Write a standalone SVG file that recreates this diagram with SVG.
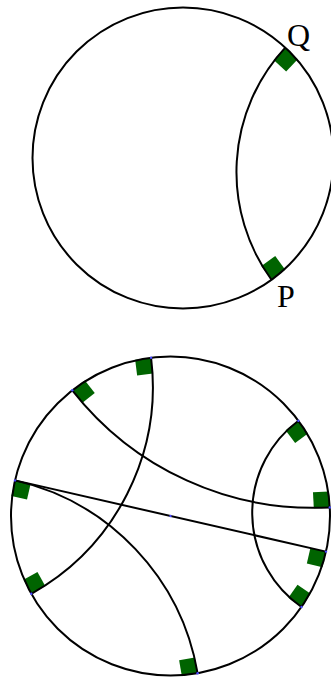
<svg xmlns="http://www.w3.org/2000/svg" width="331" height="679" viewBox="0 0 331 679">
  <style>
    .disk { fill: none; stroke: #000; stroke-width: 2; }
    .geo { fill: none; stroke: #000; stroke-width: 2; }
    .mark { fill: #006400; stroke: none; }
    .pt { fill: #4a4aff; }
    .lbl { font-family: "Liberation Serif", "DejaVu Serif", serif; font-size: 32px; fill: #000; }
  </style>

  <!-- Top figure -->
  <g id="top-markers">
    <rect class="mark" x="0" y="0" width="17" height="17" transform="translate(285.25 47.58) rotate(42.8)"/>
    <rect class="mark" x="-17" y="0" width="17" height="17" transform="translate(271.46 279.76) rotate(144)"/>
  </g>
  <g id="top-disk">
    <circle class="disk" cx="183" cy="158" r="150.5"/>
  </g>
  <g id="top-connectors">
    <path class="geo" d="M 285.25 47.58 A 183.2 183.2 0 0 0 271.46 279.76"/>
  </g>
  <g id="label-Q"><text class="lbl" x="287" y="45.5">Q</text></g>
  <g id="label-P"><text class="lbl" x="277" y="307">P</text></g>

  <!-- Bottom figure -->
  <g id="bottom-markers">
    <rect class="mark" x="-16" y="0" width="16" height="16" transform="translate(151.06 357.7) rotate(353)"/>
    <rect class="mark" x="0" y="0" width="16" height="16" transform="translate(31.3 593.8) rotate(240.8)"/>
    <rect class="mark" x="0" y="0" width="16" height="16" transform="translate(72.3 390.3) rotate(322)"/>
    <rect class="mark" x="-16" y="0" width="16" height="16" transform="translate(329.8 507.4) rotate(86.9)"/>
    <rect class="mark" x="-16" y="0" width="16" height="16" transform="translate(15 480.4) rotate(282.9)"/>
    <rect class="mark" x="0" y="0" width="16" height="16" transform="translate(197.6 673.2) rotate(170.2)"/>
    <rect class="mark" x="0" y="0" width="16" height="16" transform="translate(326 551.6) rotate(102.9)"/>
    <rect class="mark" x="0" y="0" width="16" height="16" transform="translate(298.4 420.7) rotate(53.3)"/>
    <rect class="mark" x="-16" y="0" width="16" height="16" transform="translate(301.5 607) rotate(124.8)"/>
  </g>
  <g id="bottom-disk">
    <circle class="disk" cx="170.5" cy="516" r="159.5"/>
  </g>
  <g id="bottom-connectors">
    <path class="geo" d="M 31.3 593.8 A 237.4 237.4 0 0 0 151.06 357.7"/>
    <path class="geo" d="M 72.3 390.3 A 305.8 305.8 0 0 0 329.8 507.4"/>
    <path class="geo" d="M 197.6 673.2 A 239.4 239.4 0 0 0 15 480.4"/>
    <path class="geo" d="M 298.4 420.7 A 114.8 114.8 0 0 0 301.5 607"/>
    <path class="geo" d="M 15 480.4 L 326 551.6"/>
  </g>
  <g id="bottom-points">
    <circle class="pt" cx="151.06" cy="357.7" r="1.2"/>
    <circle class="pt" cx="31.3" cy="593.8" r="1.2"/>
    <circle class="pt" cx="72.3" cy="390.3" r="1.2"/>
    <circle class="pt" cx="329.8" cy="507.4" r="1.2"/>
    <circle class="pt" cx="15" cy="480.4" r="1.2"/>
    <circle class="pt" cx="197.6" cy="673.2" r="1.2"/>
    <circle class="pt" cx="326" cy="551.6" r="1.2"/>
    <circle class="pt" cx="298.4" cy="420.7" r="1.2"/>
    <circle class="pt" cx="301.5" cy="607" r="1.2"/>
    <circle class="pt" cx="170.5" cy="516" r="1.2"/>
  </g>
</svg>
